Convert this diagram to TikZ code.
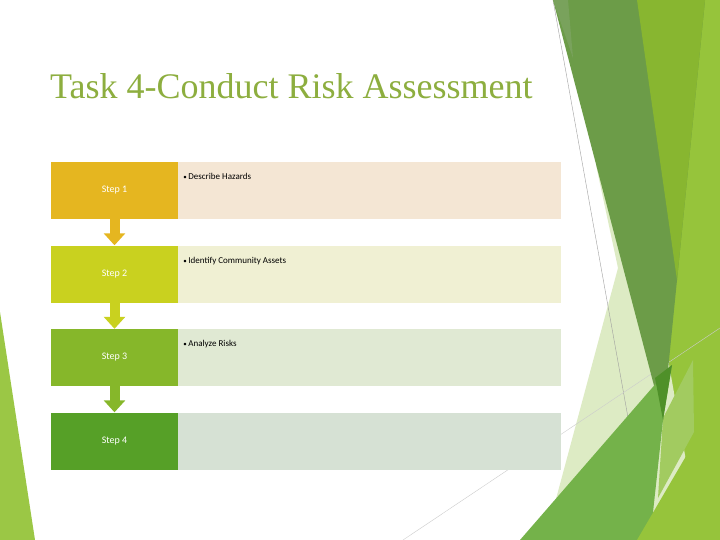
\documentclass[tikz,border=0pt]{standalone}
\usepackage{xcolor}
\usepackage{fontspec}
\setmainfont{Liberation Serif}
\newfontfamily\bodyfont{Carlito}
\usetikzlibrary{positioning,arrows.meta,calc}

\definecolor{titlegreen}{HTML}{8DAE3F}
\definecolor{stepgold}{HTML}{E5B620}
\definecolor{steplime}{HTML}{C9D11F}
\definecolor{stepgreen}{HTML}{86B72A}
\definecolor{stepdark}{HTML}{56A027}
\definecolor{infogold}{HTML}{F4E6D4}
\definecolor{infolime}{HTML}{F0F0D3}
\definecolor{infogreen}{HTML}{E0E9D3}
\definecolor{infodark}{HTML}{D6E1D4}
\definecolor{facetdark}{HTML}{6C9C48}
\definecolor{facetsoft}{HTML}{79A25C}
\definecolor{facetmid}{HTML}{88B630}
\definecolor{facetlight}{HTML}{96C43B}
\definecolor{facetpale}{HTML}{DDEBC4}
\definecolor{facetleaf}{HTML}{74B24A}
\definecolor{facetdeep}{HTML}{4F9029}
\definecolor{facetband}{HTML}{A2CB60}

\tikzset{
  stepbox/.style={rectangle, minimum width=127pt, minimum height=57pt, inner sep=0pt,
    text=white, font=\bodyfont\fontsize{10}{12}\selectfont},
  infobox/.style={rectangle, minimum width=383pt, minimum height=57pt, inner sep=0pt},
  infotext/.style={anchor=base west, inner sep=0pt, font=\bodyfont\fontsize{9}{11}\selectfont},
  steparrow/.style={line width=10pt, -{Triangle[width=21pt,length=12pt]}},
  thinline/.style={gray!75, line width=0.4pt}
}

\begin{document}
\begin{tikzpicture}[x=1pt, y=-1pt]
    \fill[white] (0,0) rectangle (720,540);
    \useasboundingbox (0,0) rectangle (720,540);

    % facets on the right
    \fill[facetlight] (690,0) -- (720,0) -- (720,540) -- (630,540) -- (663,420) -- cycle;
    \fill[facetpale] (596,165) -- (618,268) -- (545,540) -- (700,540) -- (640,200) -- cycle;
    \draw[thinline] (553,0) -- (650,540);
    \draw[thinline, gray!40] (403,540) -- (720,328);
    \fill[facetband] (663,418) -- (693,360) -- (694,432) -- (658,498) -- cycle;
    \fill[facetdark] (553,0) -- (705,0) -- (663,420) -- cycle;
    \fill[facetsoft] (553,0) -- (568,0) -- (573,58) -- cycle;
    \fill[facetmid] (637,0) -- (705,0) -- (677,280) -- cycle;
    \fill[facetleaf] (520,540) -- (672,365) -- (663,420) -- (650,540) -- cycle;
    \fill[facetdeep] (655,378) -- (672,365) -- (663,420) -- cycle;
    \fill[facetlight] (637,540) -- (720,398) -- (720,540) -- cycle;
    % facet on the left
    \fill[facetlight!95!white] (0,312) -- (35,540) -- (0,540) -- cycle;

    \node[anchor=base west, inner sep=0pt, text=titlegreen, font=\fontsize{36}{40}\selectfont] (title)
        at (50,98.5) {Task 4-Conduct Risk Assessment};

    \node[stepbox, fill=stepgold] (s1) at (114.5,190.5) {Step 1};
    \node[infobox, fill=infogold, right=0pt of s1] (i1) {};
    \node[infotext] (t1) at ($(i1.north west)+(5,18)$) {{\scriptsize•}\,Describe Hazards};

    \node[stepbox, fill=steplime] (s2) at (114.5,274) {Step 2};
    \node[infobox, fill=infolime, right=0pt of s2] (i2) {};
    \node[infotext] (t2) at ($(i2.north west)+(5,18)$) {{\scriptsize•}\,Identify Community Assets};

    \node[stepbox, fill=stepgreen] (s3) at (114.5,357.5) {Step 3};
    \node[infobox, fill=infogreen, right=0pt of s3] (i3) {};
    \node[infotext] (t3) at ($(i3.north west)+(5,18)$) {{\scriptsize•}\,Analyze Risks};

    \node[stepbox, fill=stepdark] (s4) at (114.5,441) {Step 4};
    \node[infobox, fill=infodark, right=0pt of s4] (i4) {};

    \draw[steparrow, stepgold] (s1.south) -- (s2.north);
    \draw[steparrow, steplime] (s2.south) -- (s3.north);
    \draw[steparrow, stepgreen] (s3.south) -- (s4.north);
\end{tikzpicture}
\end{document}
